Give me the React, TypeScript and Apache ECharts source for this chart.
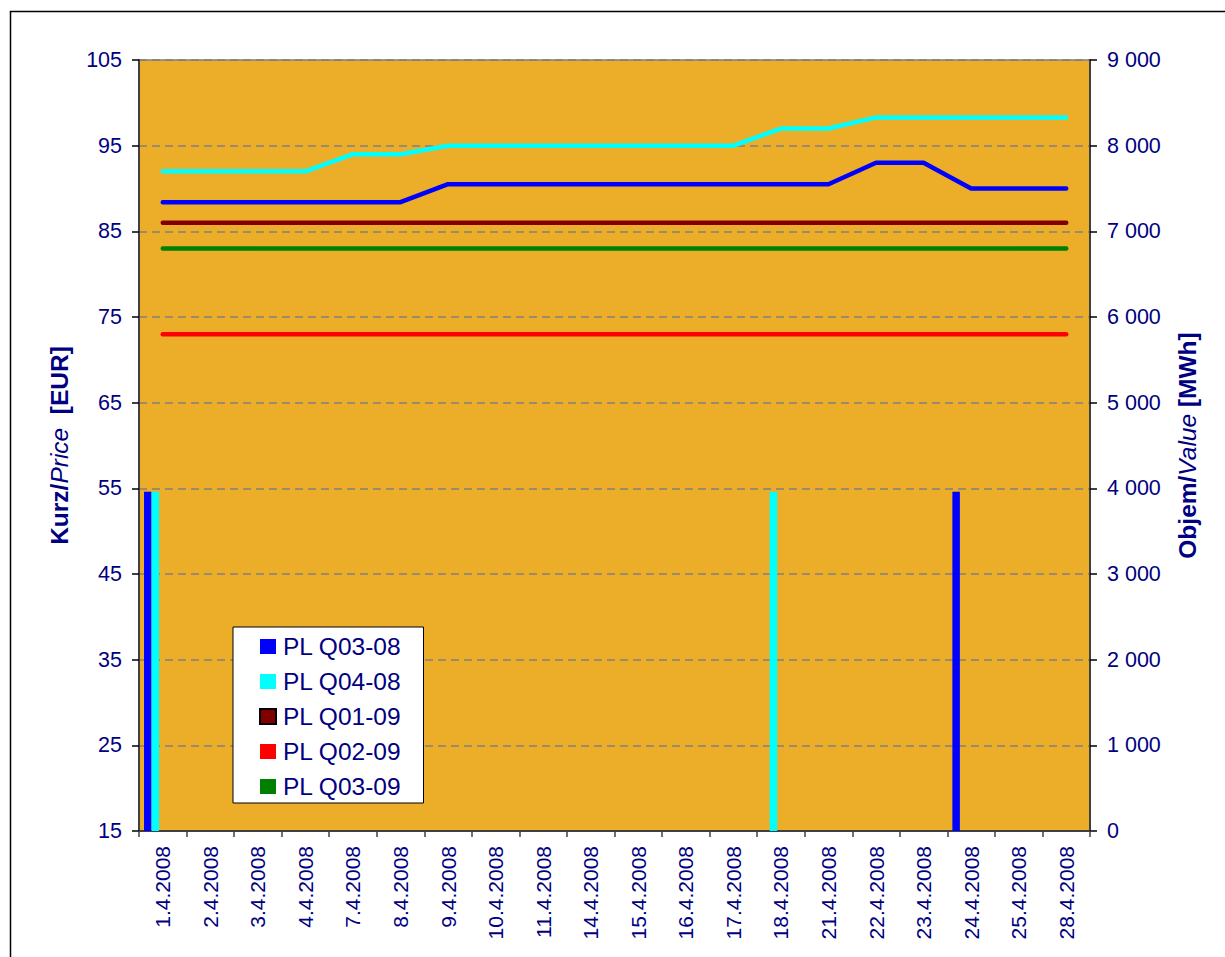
import React, { useEffect, useRef } from 'react';
import * as echarts from 'echarts';

const categories = [
  '1.4.2008', '2.4.2008', '3.4.2008', '4.4.2008', '7.4.2008', '8.4.2008', '9.4.2008',
  '10.4.2008', '11.4.2008', '14.4.2008', '15.4.2008', '16.4.2008', '17.4.2008', '18.4.2008',
  '21.4.2008', '22.4.2008', '23.4.2008', '24.4.2008', '25.4.2008', '28.4.2008',
];

const seriesNames = ['PL Q03-08', 'PL Q04-08', 'PL Q01-09', 'PL Q02-09', 'PL Q03-09'];
const seriesColors = ['#0000FF', '#00FFFF', '#800000', '#FF0000', '#008000'];

// Prices (left axis, EUR)
const priceQ0308 = [88.4, 88.4, 88.4, 88.4, 88.4, 88.4, 90.5, 90.5, 90.5, 90.5, 90.5, 90.5, 90.5, 90.5, 90.5, 93, 93, 90, 90, 90];
const priceQ0408 = [92, 92, 92, 92, 94, 94, 95, 95, 95, 95, 95, 95, 95, 97, 97, 98.3, 98.3, 98.3, 98.3, 98.3];
const priceQ0109 = [86, 86, 86, 86, 86, 86, 86, 86, 86, 86, 86, 86, 86, 86, 86, 86, 86, 86, 86, 86];
const priceQ0209 = [73, 73, 73, 73, 73, 73, 73, 73, 73, 73, 73, 73, 73, 73, 73, 73, 73, 73, 73, 73];
const priceQ0309 = [83, 83, 83, 83, 83, 83, 83, 83, 83, 83, 83, 83, 83, 83, 83, 83, 83, 83, 83, 83];

// Volumes (right axis, MWh)
const volQ0308 = [3960, 0, 0, 0, 0, 0, 0, 0, 0, 0, 0, 0, 0, 0, 0, 0, 0, 3960, 0, 0];
const volQ0408 = [3960, 0, 0, 0, 0, 0, 0, 0, 0, 0, 0, 0, 0, 3960, 0, 0, 0, 0, 0, 0];
const volQ0109 = [0, 0, 0, 0, 0, 0, 0, 0, 0, 0, 0, 0, 0, 0, 0, 0, 0, 0, 0, 0];
const volQ0209 = [0, 0, 0, 0, 0, 0, 0, 0, 0, 0, 0, 0, 0, 0, 0, 0, 0, 0, 0, 0];
const volQ0309 = [0, 0, 0, 0, 0, 0, 0, 0, 0, 0, 0, 0, 0, 0, 0, 0, 0, 0, 0, 0];

const prices = [priceQ0308, priceQ0408, priceQ0109, priceQ0209, priceQ0309];
const volumes = [volQ0308, volQ0408, volQ0109, volQ0209, volQ0309];

const FONT = 'Arial, "Liberation Sans", sans-serif';
const NAVY = '#000080';

export default function App() {
  const ref = useRef<HTMLDivElement>(null);

  useEffect(() => {
    if (!ref.current) return;
    const chart = echarts.init(ref.current, null, { renderer: 'svg' });

    const barSeries = seriesNames.map((name, i) => ({
      name,
      type: 'bar',
      yAxisIndex: 1,
      data: volumes[i],
      barWidth: 7.5,
      barGap: '0%',
      itemStyle: { color: seriesColors[i] },
      z: 2,
    }));
    const lineSeries = seriesNames.map((name, i) => ({
      name,
      type: 'line',
      yAxisIndex: 0,
      data: prices[i],
      symbol: 'none',
      lineStyle: { color: seriesColors[i], width: 4.5, cap: 'round', join: 'round' },
      itemStyle: { color: seriesColors[i] },
      z: 3,
    }));

    const titleRich = {
      b: { fontSize: 24.5, fontWeight: 'bold', color: NAVY, fontFamily: FONT },
      i: { fontSize: 24.5, fontStyle: 'italic', color: NAVY, fontFamily: FONT },
    };

    const option: any = {
      animation: false,
      backgroundColor: '#FFFFFF',
      textStyle: { fontFamily: FONT },
      graphic: [
        {
          type: 'rect',
          silent: true,
          z: 100,
          shape: { x: 10.5, y: 11.5, width: 1400, height: 1100 },
          style: { fill: 'none', stroke: '#000000', lineWidth: 1.5 },
        },
      ],
      grid: {
        left: 139,
        right: 135,
        top: 60,
        bottom: 126,
        show: true,
        backgroundColor: '#ECAE29',
        borderColor: '#808080',
        borderWidth: 1.5,
      },
      legend: {
        orient: 'vertical',
        left: 233,
        top: 627,
        backgroundColor: '#FFFFFF',
        borderColor: '#000000',
        borderWidth: 1,
        padding: [7, 22, 4, 26],
        itemWidth: 16,
        itemHeight: 15,
        itemGap: 10,
        selectedMode: false,
        textStyle: { color: NAVY, fontSize: 24.5, fontFamily: FONT, lineHeight: 24, padding: [0, 0, 0, 2] },
        data: seriesNames.map((name, i) => ({
          name,
          icon: 'rect',
          itemStyle: i === 2
            ? { color: seriesColors[i], borderColor: '#000000', borderWidth: 2 }
            : { color: seriesColors[i], borderWidth: 0 },
        })),
      },
      xAxis: {
        type: 'category',
        data: categories,
        boundaryGap: true,
        axisLine: { lineStyle: { color: '#404040', width: 2 } },
        axisTick: { show: true, length: 6, lineStyle: { color: '#404040', width: 1.5 } },
        axisLabel: {
          interval: 0,
          rotate: 90,
          margin: 15,
          color: NAVY,
          fontSize: 21,
          fontFamily: FONT,
        },
        splitLine: { show: false },
      },
      yAxis: [
        {
          type: 'value',
          min: 15,
          max: 105,
          interval: 10,
          position: 'left',
          name: '{b|Kurz/}{i|Price}{b|  [EUR]}',
          nameLocation: 'middle',
          nameRotate: 90,
          nameGap: 67,
          nameTextStyle: { rich: titleRich },
          axisLine: { show: true, lineStyle: { color: '#404040', width: 2 } },
          axisTick: { show: true, length: 7, lineStyle: { color: '#000000', width: 1.5 } },
          axisLabel: { margin: 17, color: NAVY, fontSize: 21.5, fontFamily: FONT },
          splitLine: { show: true, lineStyle: { color: '#808080', width: 1.5, type: [8, 5] } },
        },
        {
          type: 'value',
          min: 0,
          max: 9000,
          interval: 1000,
          position: 'right',
          name: '{b|Objem/}{i|Value}{b| [MWh]}',
          nameLocation: 'middle',
          nameRotate: 90,
          nameGap: 85,
          nameTextStyle: { rich: titleRich },
          axisLine: { show: true, lineStyle: { color: '#404040', width: 2 } },
          axisTick: { show: true, length: 7, lineStyle: { color: '#000000', width: 1.5 } },
          axisLabel: {
            margin: 17,
            color: NAVY,
            fontSize: 21.5,
            fontFamily: FONT,
            formatter: (v: number) => String(v).replace(/\B(?=(\d{3})+(?!\d))/g, ' '),
          },
          splitLine: { show: false },
        },
      ],
      series: [...barSeries, ...lineSeries],
    };

    chart.setOption(option);
    return () => chart.dispose();
  }, []);

  return (
    <div
      ref={ref}
      style={{ position: 'absolute', left: 0, top: 0, width: 1225, height: 957 }}
    />
  );
}
